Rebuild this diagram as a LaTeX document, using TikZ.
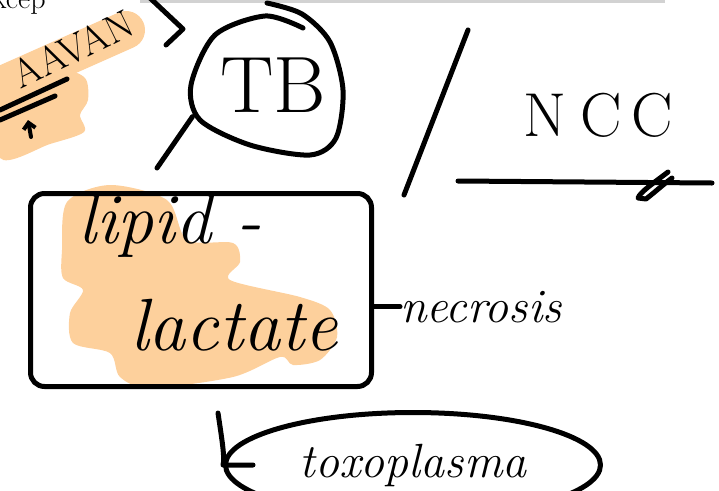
\documentclass[tikz,border=0pt]{standalone}
\usepackage{fontspec}
\usetikzlibrary{positioning, arrows.meta, shapes.geometric, calc}
\definecolor{peach}{RGB}{253,208,156}

\begin{document}
\begin{tikzpicture}[x=1pt, y=-1pt,
    ink/.style={line width=5pt, line cap=round, line join=round},
    caps/.style={inner sep=0pt},
    hand/.style={inner sep=0pt, font=\itshape},
    ringbox/.style={draw, ink, rounded corners=14pt, minimum width=341pt, minimum height=193pt}
  ]
  \useasboundingbox (0,0) rectangle (719,490);
  \clip (0,0) rectangle (719,490);
  \fill[gray!35] (140,0) rectangle (665,2.5);

  \draw[peach, line width=38pt, line cap=round] (0,86) -- (126,30);
  \fill[peach] plot[smooth cycle] coordinates {(0,80) (60,70) (85,78) (88,100) (80,115) (84,132) (50,144) (0,158)};
  \fill[peach] plot[smooth cycle] coordinates {(67,202) (110,185) (167,200) (187,240) (233,243) (240,262) (230,280) (300,297) (330,310) (337,337) (320,360) (293,365) (280,357) (233,377) (150,388) (120,377) (110,353) (73,343) (70,313) (83,290) (63,278) (62,250)};

  \node[caps, anchor=base west, font=\fontsize{30}{30}\selectfont] (frag) at (-8,8) {kcep};
  \node[caps, rotate=26, font=\fontsize{40}{40}\selectfont] (aavan) at (73,49) {AAVAN};
  \draw[ink] (0,110) -- (67,79);
  \draw[ink] (0,120) -- (55,96);
  \draw[line width=4pt, line cap=round, -{Straight Barb[length=6pt]}] (31,137) -- (28,120);
  \draw[ink] (150,-2) -- (183,29) -- (166,45);

  \node[ellipse, caps, minimum width=153pt, minimum height=140pt, font=\fontsize{80}{80}\selectfont] (tb) at (267,85) {\hspace{12pt}TB};
  \draw[ink] plot[smooth] coordinates {(303,28) (265,16) (215,35) (191,85) (200,120) (250,145) (310,155) (336,138) (343,90) (330,42) (302,14) (267,3)};
  \coordinate (tbend) at (157,168);
  \draw[ink] (tb.203) -- (tbend);

  \draw[ink] (468,30) -- (404,195);
  \node[caps, font=\fontsize{62}{62}\selectfont] (ncc) at (598,115) {N\hspace{14pt}C\hspace{10pt}C};
  \draw[ink] (458,181) -- (712,183);
  \draw[ink] (668,172) .. controls (655,182) and (640,192) .. (638,198) -- (646,199) .. controls (655,192) and (665,183) .. (672,178);

  \node[ringbox] (box) at (201,290) {};
  \node[hand, anchor=base west, font=\fontsize{72}{72}\selectfont\itshape] (lipid) at (78,243) {lipid -};
  \node[hand, anchor=base west, font=\fontsize{74}{74}\selectfont\itshape] (lactate) at (130,350) {lactate};

  \node[hand, anchor=base west, font=\fontsize{48}{48}\selectfont\itshape] (necro) at (400,322) {necrosis};
  \draw[ink] (box.east |- necro.west) -- (necro.west);

  \node[draw, ink, ellipse, hand, minimum width=375pt, minimum height=105pt, font=\fontsize{48}{48}\selectfont\itshape] (toxo) at (413,465) {toxoplasma};
  \coordinate (toxosrc) at (218,413);
  \draw[ink] (toxosrc) .. controls (222,440) and (225,458) .. (toxo.west) -- ++(30,0);
\end{tikzpicture}
\end{document}
